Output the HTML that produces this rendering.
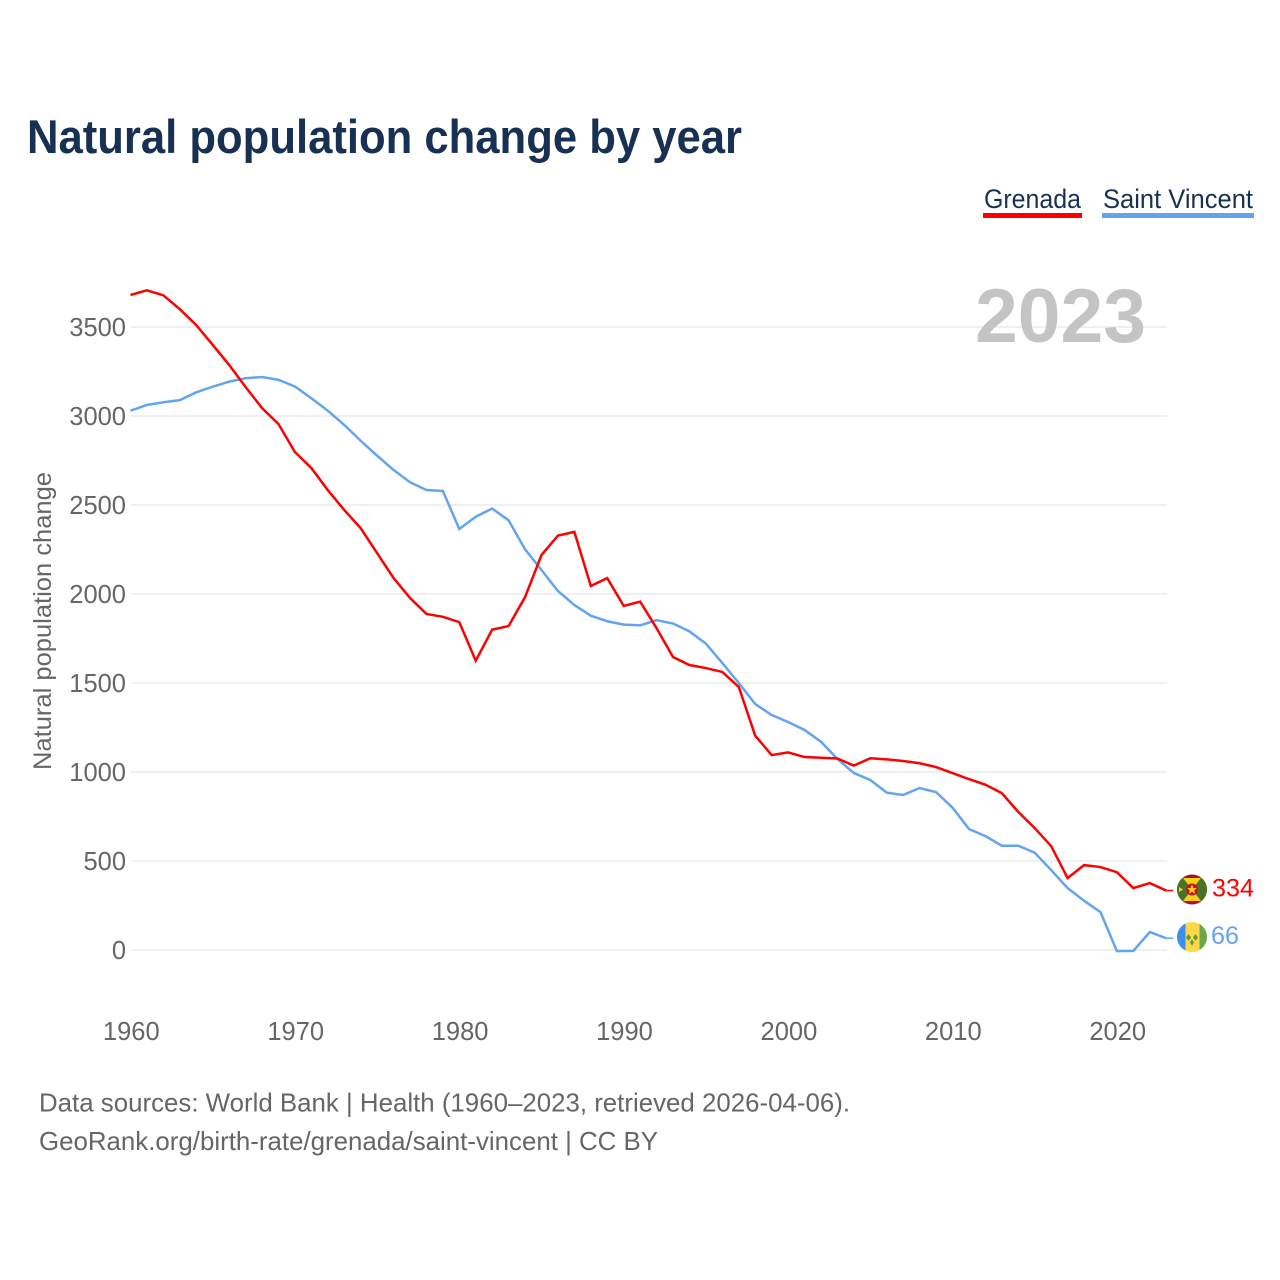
<!DOCTYPE html>
<html lang="en">
<head>
<meta charset="utf-8">
<title>Natural population change by year</title>
<style>
html,body{margin:0;padding:0;background:#fff;}
svg{display:block;font-family:"Liberation Sans",sans-serif;}
</style>
</head>
<body>
<svg id="chart" xmlns="http://www.w3.org/2000/svg" width="1280" height="1280" viewBox="0 0 1280 1280">
  <rect x="0" y="0" width="1280" height="1280" fill="#ffffff"/>
  <text x="27" y="153" font-size="47" font-weight="700" fill="#183153" textLength="715" lengthAdjust="spacingAndGlyphs">Natural population change by year</text>

  <g>
    <g>
      <text x="984" y="208" font-size="27" fill="#183153" textLength="97" lengthAdjust="spacingAndGlyphs">Grenada</text>
      <rect x="983" y="213" width="99" height="5" fill="#ff0000"/>
    </g>
    <g>
      <text x="1103" y="208" font-size="27" fill="#183153" textLength="150" lengthAdjust="spacingAndGlyphs">Saint Vincent</text>
      <rect x="1102" y="213" width="152" height="5" fill="#62a5ee"/>
    </g>
  </g>

  <g id="grid"></g>
  <text x="975" y="342" font-size="76" font-weight="700" fill="#c4c4c4" textLength="171" lengthAdjust="spacingAndGlyphs">2023</text>
  <g id="yticks"></g>
  <g id="xticks"></g>
  <text transform="translate(51,621) rotate(-90)" text-anchor="middle" font-size="25" fill="#666666" textLength="298" lengthAdjust="spacingAndGlyphs">Natural population change</text>
  <g id="series"></g>

  <defs>
    <clipPath id="clip-gd"><circle cx="1192" cy="889.5" r="15"/></clipPath>
    <clipPath id="clip-vc"><circle cx="1192" cy="937" r="15"/></clipPath>
  </defs>
  <g clip-path="url(#clip-gd)">
    <rect x="1177" y="874" width="30" height="31" fill="#a8132c"/>
    <rect x="1177" y="878" width="30" height="23" fill="#fcd116"/>
    <polygon points="1192,889.5 1183,878 1172,878 1172,901 1183,901" fill="#4b7229"/>
    <polygon points="1192,889.5 1201,878 1212,878 1212,901 1201,901" fill="#4b7229"/>
    <circle cx="1192" cy="889.5" r="6" fill="#c8102e"/>
    <polygon points="1192,884.5 1193.4,888 1197,888 1194.2,890.2 1195.2,893.7 1192,891.6 1188.8,893.7 1189.8,890.2 1187,888 1190.6,888" fill="#fcd116"/>
    <polygon points="1179,887 1183,889.5 1179,892" fill="#fcd116"/>
  </g>
  <g clip-path="url(#clip-vc)">
    <rect x="1177" y="922" width="8.5" height="30" fill="#3e8ef0"/>
    <rect x="1185.5" y="922" width="14" height="30" fill="#fdd84a"/>
    <rect x="1199.5" y="922" width="7.5" height="30" fill="#6ca84a"/>
    <polygon points="1188.5,934 1191,937.5 1188.5,941 1186,937.5" fill="#5b9b3e"/>
    <polygon points="1195.5,934 1198,937.5 1195.5,941 1193,937.5" fill="#5b9b3e"/>
    <polygon points="1192,939 1194,942.5 1192,946 1190,942.5" fill="#5b9b3e"/>
  </g>
  <text x="1212" y="896.5" font-size="25" fill="#ff0000" textLength="42" lengthAdjust="spacingAndGlyphs">334</text>
  <text x="1211" y="944" font-size="25" fill="#62a5ee" textLength="28" lengthAdjust="spacingAndGlyphs">66</text>

  <text x="39" y="1111.5" font-size="26" fill="#666666" textLength="811" lengthAdjust="spacingAndGlyphs">Data sources: World Bank | Health (1960–2023, retrieved 2026-04-06).</text>
  <text x="39" y="1150" font-size="26" fill="#666666" textLength="619" lengthAdjust="spacingAndGlyphs">GeoRank.org/birth-rate/grenada/saint-vincent | CC BY</text>
</svg>
<script>
const firstYear = 1960;
const grenadaValues = [3680,3706,3678,3600,3511,3400,3287,3163,3045,2955,2798,2708,2584,2472,2370,2230,2090,1978,1888,1872,1842,1625,1800,1820,1983,2219,2328,2349,2045,2089,1933,1957,1808,1646,1601,1584,1562,1478,1204,1095,1110,1084,1080,1076,1036,1077,1071,1062,1049,1028,994,960,929,881,776,685,584,404,477,466,437,348,376,334];
const saintVincentValues = [3030,3062,3077,3089,3133,3165,3193,3212,3219,3203,3166,3100,3030,2950,2861,2777,2697,2628,2584,2579,2365,2434,2480,2414,2251,2135,2017,1938,1878,1847,1828,1824,1853,1834,1790,1721,1612,1500,1382,1320,1281,1236,1170,1073,994,955,884,871,910,887,800,680,640,586,586,547,449,348,277,213,-6,-5,101,66];
const yTickValues = [0,500,1000,1500,2000,2500,3000,3500];
const xTickValues = [1960,1970,1980,1990,2000,2010,2020];

const NS = 'http://www.w3.org/2000/svg';
const xScale = function (year) { return 130.5 + (year - 1960) * 16.44; };
const yScale = function (value) { return 950 - value * 0.178; };

const gridGroup = document.getElementById('grid');
const yTickGroup = document.getElementById('yticks');
const xTickGroup = document.getElementById('xticks');
const seriesGroup = document.getElementById('series');

yTickValues.forEach(function (v) {
  const line = document.createElementNS(NS, 'line');
  
  
  line.setAttribute('x1', 131);
  line.setAttribute('x2', 1167);
  line.setAttribute('y1', yScale(v));
  line.setAttribute('y2', yScale(v));
  line.setAttribute('stroke', '#ebebeb');
  line.setAttribute('stroke-width', '1.4');
  gridGroup.appendChild(line);

  const label = document.createElementNS(NS, 'text');
  
  
  label.setAttribute('x', 126);
  label.setAttribute('y', yScale(v) + 9);
  label.setAttribute('text-anchor', 'end');
  label.setAttribute('font-size', '25.5');
  label.setAttribute('fill', '#666666');
  label.textContent = String(v);
  yTickGroup.appendChild(label);
});

xTickValues.forEach(function (y) {
  const label = document.createElementNS(NS, 'text');
  
  
  label.setAttribute('x', xScale(y) + 0.8);
  label.setAttribute('y', 1040);
  label.setAttribute('text-anchor', 'middle');
  label.setAttribute('font-size', '25.5');
  label.setAttribute('fill', '#666666');
  label.textContent = String(y);
  xTickGroup.appendChild(label);
});

function drawSeries(values, color, name) {
  const pts = values.map(function (v, i) {
    return xScale(firstYear + i).toFixed(2) + ',' + yScale(v).toFixed(2);
  });
  const line = document.createElementNS(NS, 'polyline');
  
  
  line.setAttribute('points', pts.join(' '));
  line.setAttribute('fill', 'none');
  line.setAttribute('stroke', color);
  line.setAttribute('stroke-width', '2.5');
  line.setAttribute('stroke-linejoin', 'miter');
  seriesGroup.appendChild(line);

  const lastValue = values[values.length - 1];
  const lastYear = firstYear + values.length - 1;
  const leader = document.createElementNS(NS, 'line');
  
  
  leader.setAttribute('x1', xScale(lastYear));
  leader.setAttribute('x2', xScale(lastYear) + 7);
  leader.setAttribute('y1', yScale(lastValue));
  leader.setAttribute('y2', yScale(lastValue));
  leader.setAttribute('stroke', color);
  leader.setAttribute('stroke-width', '1.6');
  seriesGroup.appendChild(leader);
}
drawSeries(saintVincentValues, '#62a5ee', 'line-saint-vincent');
drawSeries(grenadaValues, '#ff0000', 'line-grenada');
</script>
</body>
</html>
